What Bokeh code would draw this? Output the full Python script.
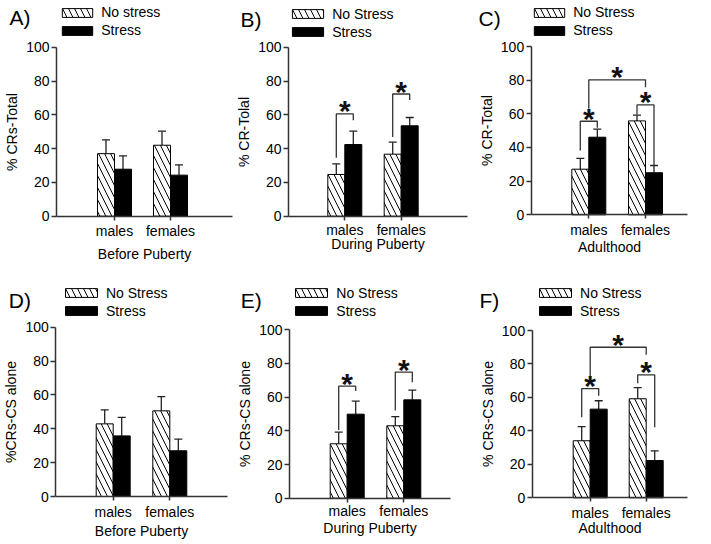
import numpy as np
from bokeh.plotting import figure
from bokeh.layouts import row, column
from bokeh.models import (Range1d, FixedTicker, Whisker, TeeHead, ColumnDataSource,
                          Legend, LegendItem)
from bokeh.core.properties import value
from bokeh.embed import file_html
from bokeh.resources import INLINE

# ---------------- data ----------------
categories = ["males", "females"]

# A) % CRs-Total, Before Puberty
a_nostress = [37.0, 42.0]
a_nostress_err = [8.2, 8.3]
a_stress = [27.8, 24.3]
a_stress_err = [7.9, 6.1]

# B) % CR-Total, During Puberty
b_nostress = [24.7, 36.7]
b_nostress_err = [6.3, 7.1]
b_stress = [42.4, 53.5]
b_stress_err = [7.9, 4.9]

# C) % CR-Total, Adulthood
c_nostress = [27.1, 55.8]
c_nostress_err = [6.4, 3.4]
c_stress = [46.1, 25.0]
c_stress_err = [4.8, 4.3]

# D) % CRs-CS alone, Before Puberty
d_nostress = [42.9, 50.6]
d_nostress_err = [8.3, 8.4]
d_stress = [35.8, 27.0]
d_stress_err = [10.9, 6.9]

# E) % CRs-CS alone, During Puberty
e_nostress = [32.3, 43.0]
e_nostress_err = [6.9, 5.5]
e_stress = [49.9, 58.4]
e_stress_err = [7.7, 5.8]

# F) % CRs-CS alone, Adulthood
f_nostress = [34.1, 59.2]
f_nostress_err = [8.5, 6.7]
f_stress = [53.0, 22.3]
f_stress_err = [5.0, 5.8]

# significance brackets: (left anchor, right anchor, top, left leg end, right leg end)
# anchor = (category, "ns" | "s" | "c")
b_brackets = [(("males", "ns"), ("males", "s"), 60.6, 34.6, 56.8),
              (("females", "ns"), ("females", "s"), 72.3, 46.9, 68.7)]
c_brackets = [(("males", "ns"), ("males", "s"), 55.6, 38.2, 51.7),
              (("females", "ns"), ("females", "s"), 65.3, 59.6, 29.3),
              (("males", "c"), ("females", "c"), 80.2, 63.0, 75.8)]
e_brackets = [(("males", "ns"), ("males", "s"), 66.5, 40.5, 63.6),
              (("females", "ns"), ("females", "s"), 74.9, 52.1, 68.9)]
f_brackets = [(("males", "ns"), ("males", "s"), 65.3, 48.2, 61.0),
              (("females", "ns"), ("females", "s"), 73.5, 68.5, 42.2),
              (("males", "c"), ("females", "c"), 90.0, 69.0, 85.5)]

y_ticks = [0, 20, 40, 60, 80, 100]

panels = [
    dict(letter="A)", ns=a_nostress, nse=a_nostress_err, s=a_stress, se=a_stress_err,
         ylabel="% CRs-Total", xlabel="Before Puberty", leg=("No stress", "Stress"), br=[]),
    dict(letter="B)", ns=b_nostress, nse=b_nostress_err, s=b_stress, se=b_stress_err,
         ylabel="% CR-Tolal", xlabel="During Puberty", leg=("No Stress", "Stress"), br=b_brackets),
    dict(letter="C)", ns=c_nostress, nse=c_nostress_err, s=c_stress, se=c_stress_err,
         ylabel="% CR-Total", xlabel="Adulthood", leg=("No Stress", "Stress"), br=c_brackets),
    dict(letter="D)", ns=d_nostress, nse=d_nostress_err, s=d_stress, se=d_stress_err,
         ylabel="%CRs-CS alone", xlabel="Before Puberty", leg=("No Stress", "Stress"), br=[]),
    dict(letter="E)", ns=e_nostress, nse=e_nostress_err, s=e_stress, se=e_stress_err,
         ylabel="% CRs-CS alone", xlabel="During Puberty", leg=("No Stress", "Stress"), br=e_brackets),
    dict(letter="F)", ns=f_nostress, nse=f_nostress_err, s=f_stress, se=f_stress_err,
         ylabel="% CRs-CS alone", xlabel="Adulthood", leg=("No Stress", "Stress"), br=f_brackets),
]

# ---------------- layout (page pixels) ----------------
col_x0 = [0, 237, 474]
col_w = [237, 237, 237]
row_y0 = [0, 265]
row_h = [265, 279]

geom = [
    dict(axis_x=56, axis_end=232, y0=215.7, y100=46.7, mc=114, fc=170,
         leg_x=62, leg_y=5.5, sw=30, let_x=9, let_base=17, xl_so=3, tl_so=3),
    dict(axis_x=288, axis_end=467, y0=215.7, y100=46.7, mc=344.3, fc=400.7,
         leg_x=292, leg_y=7, sw=31, let_x=240, let_base=18.5, xl_so=-6, tl_so=2),
    dict(axis_x=530.7, axis_end=687, y0=214.3, y100=46, mc=588.3, fc=645,
         leg_x=534, leg_y=5.5, sw=30.7, let_x=478, let_base=17.5, xl_so=-2, tl_so=3),
    dict(axis_x=55.3, axis_end=227, y0=496, y100=326.7, mc=112.7, fc=169.3,
         leg_x=65, leg_y=286, sw=32, let_x=8.3, let_base=300, xl_so=0, tl_so=3),
    dict(axis_x=289, axis_end=450, y0=497.7, y100=329.3, mc=346.7, fc=403.3,
         leg_x=295.3, leg_y=286, sw=31.7, let_x=240.3, let_base=300, xl_so=-3, tl_so=1),
    dict(axis_x=531.7, axis_end=687, y0=497.3, y100=330, mc=589.7, fc=645.7,
         leg_x=539, leg_y=286, sw=31.7, let_x=479, let_base=300, xl_so=-4, tl_so=3),
]

FONT = "Liberation Sans"
BAR_PX = 17
AXIS_COLOR = "#333333"
GH = 11          # legend glyph height
ITEM_H = 16
ITEM_SP = 2

figs = []
for k, (pd_, g) in enumerate(zip(panels, geom)):
    ci, ri = k % 3, k // 3
    W, H = col_w[ci], row_h[ri]
    X0, Y0 = col_x0[ci], row_y0[ri]
    ppu = (g["y0"] - g["y100"]) / 100.0
    unit = g["fc"] - g["mc"]

    def dx(px):  # page pixel -> data x
        return (px - g["mc"]) / unit

    def dy(py):  # page pixel -> data y
        return (g["y0"] - py) / ppu

    bw = BAR_PX / unit

    p = figure(width=W, height=H, output_backend="svg", toolbar_location=None,
               x_range=Range1d(dx(X0), dx(X0 + W)), y_range=Range1d(dy(Y0 + H), dy(Y0)),
               min_border=0)
    p.outline_line_color = None
    p.grid.visible = False
    p.background_fill_color = "white"
    p.border_fill_color = "white"

    cx = np.arange(len(categories), dtype=float)
    ns = np.array(pd_["ns"]); s = np.array(pd_["s"])
    src_ns = ColumnDataSource(dict(x=cx - bw / 2, top=ns, upper=ns + np.array(pd_["nse"])))
    src_s = ColumnDataSource(dict(x=cx + bw / 2, top=s, upper=s + np.array(pd_["se"])))

    r_ns = p.vbar(x="x", top="top", bottom=0, width=bw, source=src_ns,
                  fill_color="white", line_color="black", line_width=1,
                  hatch_pattern="\\", hatch_color="black", hatch_scale=12, hatch_weight=1)
    r_s = p.vbar(x="x", top="top", bottom=0, width=bw, source=src_s,
                 fill_color="black", line_color="black", line_width=1)

    for src in (src_ns, src_s):
        p.add_layout(Whisker(source=src, base="x", lower="top", upper="upper",
                             dimension="height", line_color="#222222", line_width=1.3,
                             upper_head=TeeHead(size=8, line_color="#222222", line_width=1.3),
                             lower_head=None))

    # significance brackets and asterisks
    if pd_["br"]:
        off = {"ns": -bw / 2, "s": bw / 2, "c": 0.0}
        xs, ys, ax, ay = [], [], [], []
        for (lc, lg), (rc, rg), top, lb, rb in pd_["br"]:
            xl = categories.index(lc) + off[lg]
            xr = categories.index(rc) + off[rg]
            xs.append([xl, xl, xr, xr]); ys.append([lb, top, top, rb])
            ax.append((xl + xr) / 2); ay.append(top)
        p.multi_line(xs=xs, ys=ys, line_color="#333333", line_width=1.3)
        p.text(x=ax, y=ay, text=["*"] * len(ax), text_font=value(FONT),
               text_font_style="bold", text_font_size="30px", text_align="center",
               text_baseline="alphabetic", y_offset=-3, text_color="#111111")

    # axes placed at fixed data locations inside the full-size frame
    p.yaxis.fixed_location = dx(g["axis_x"])
    p.yaxis.bounds = (0, 100)
    p.xaxis.fixed_location = 0
    p.xaxis.bounds = (dx(g["axis_x"]), dx(g["axis_end"]))
    p.yaxis.ticker = FixedTicker(ticks=y_ticks)
    p.xaxis.ticker = FixedTicker(ticks=list(cx))
    p.xaxis.major_label_overrides = {float(i): c for i, c in enumerate(categories)}
    for ax_ in (p.xaxis[0], p.yaxis[0]):
        ax_.axis_line_color = AXIS_COLOR
        ax_.axis_line_width = 1.5
        ax_.major_tick_line_color = AXIS_COLOR
        ax_.major_tick_line_width = 1.5
        ax_.major_tick_in = 0
        ax_.minor_tick_line_color = None
        ax_.major_label_text_font = FONT
        ax_.major_label_text_font_size = "14px"
        ax_.major_label_text_color = "black"
        ax_.axis_label_text_font = FONT
        ax_.axis_label_text_font_size = "14px"
        ax_.axis_label_text_font_style = "normal"
        ax_.axis_label_text_color = "black"
    p.yaxis.major_tick_out = 5
    p.yaxis.major_label_standoff = 2
    p.yaxis.axis_label_standoff = 3
    p.xaxis.major_tick_out = 4
    p.xaxis.major_label_standoff = g["tl_so"]
    p.xaxis.axis_label_standoff = g["xl_so"]
    p.yaxis.axis_label = pd_["ylabel"]
    p.xaxis.axis_label = pd_["xlabel"]

    # legend (screen offsets from the frame's bottom-left = figure's bottom-left)
    gw = g["sw"] / 0.8
    lx = g["leg_x"] - 0.1 * gw - X0
    ltop = (Y0 + H) - (g["leg_y"] - 0.1 * GH)
    leg_h = 2 * ITEM_H + ITEM_SP
    legend = Legend(items=[LegendItem(label=pd_["leg"][0], renderers=[r_ns]),
                           LegendItem(label=pd_["leg"][1], renderers=[r_s])],
                    location=(lx, ltop - leg_h), padding=0, margin=0,
                    glyph_width=int(round(gw)), glyph_height=GH,
                    label_height=ITEM_H, spacing=ITEM_SP, label_standoff=5,
                    label_text_font=FONT, label_text_font_size="14px",
                    label_text_color="black",
                    border_line_color=None, background_fill_alpha=0)
    p.add_layout(legend, "center")

    # panel letter
    p.text(x=[dx(g["let_x"])], y=[dy(g["let_base"])], text=[pd_["letter"]],
           text_font=value(FONT), text_font_size="21px", text_color="black",
           text_align="left", text_baseline="alphabetic")
    figs.append(p)

layout = column(row(*figs[:3]), row(*figs[3:]))
open("out.html", "w").write(file_html(layout, INLINE))
